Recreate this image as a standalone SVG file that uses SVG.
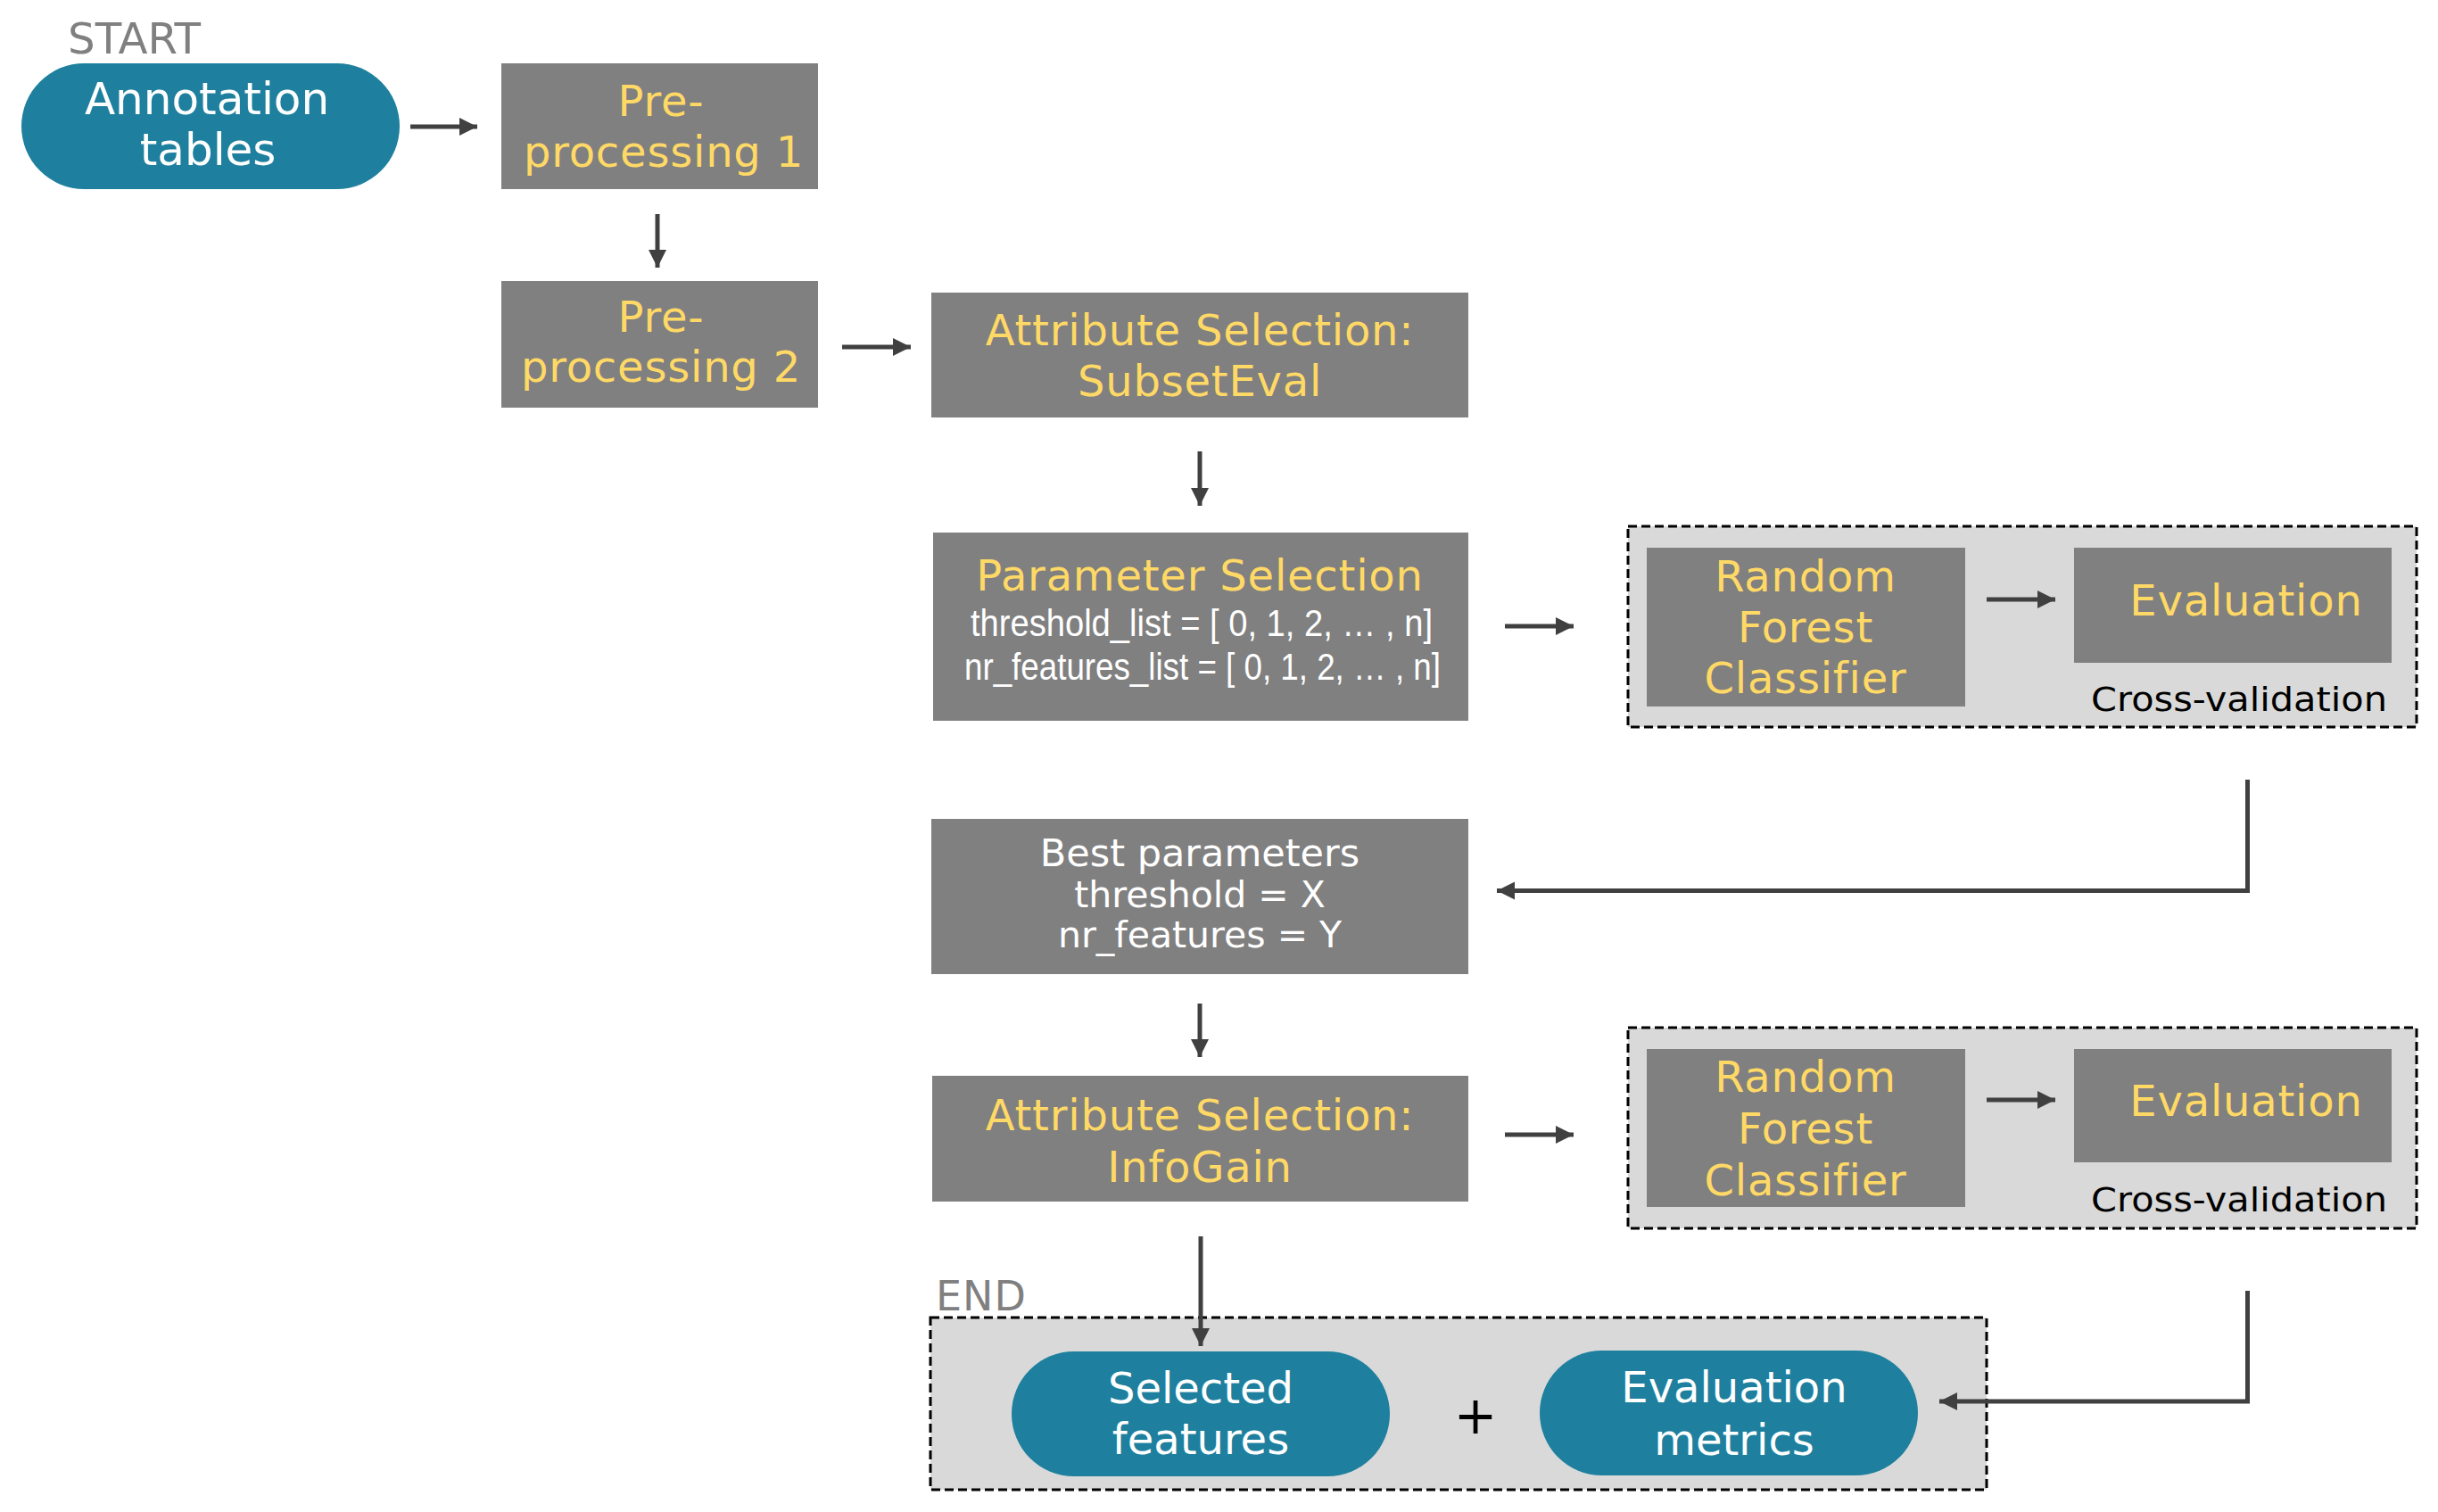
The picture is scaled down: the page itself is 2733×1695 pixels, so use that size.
<svg xmlns="http://www.w3.org/2000/svg" width="2733" height="1695" viewBox="0 0 2733 1695">
<defs>
<style>
.box{fill:#808080;}
.pill{fill:#1E809E;}
.cv{fill:#D9D9D9;stroke:#000;stroke-width:3;stroke-dasharray:10 5;}
.t{font-family:"DejaVu Sans",Verdana,sans-serif;font-size:48px;text-anchor:middle;}
.y{fill:#FFD966;letter-spacing:0.8px;}
.w{fill:#FFFFFF;}
.g{fill:#808080;}
.s{font-family:"DejaVu Sans",Verdana,sans-serif;font-size:41px;text-anchor:middle;fill:#FFFFFF;}
.c{font-family:"DejaVu Sans",Verdana,sans-serif;font-size:38px;text-anchor:end;fill:#000;}
.n{font-family:"Liberation Sans",Arial,sans-serif;font-size:42px;fill:#FFFFFF;}
.con{fill:none;stroke:#404040;stroke-width:5;marker-end:url(#ah);}
</style>
<marker id="ah" markerUnits="userSpaceOnUse" markerWidth="22" markerHeight="22" refX="20" refY="10" orient="auto">
<path d="M0,0 L20,10 L0,20 Z" fill="#404040"/>
</marker>
</defs>
<rect width="2733" height="1695" fill="#FFFFFF"/>

<g id="start">
<text x="76" y="60" class="t g" style="text-anchor:start" textLength="149" lengthAdjust="spacingAndGlyphs">START</text>
</g>
<g id="annotation">
<rect x="24" y="71" width="424" height="141" rx="70.5" class="pill"/>
<text x="232" y="128" class="t w" style="font-size:50px">Annotation</text>
<text x="233" y="185" class="t w" style="font-size:50px">tables</text>
</g>
<g id="pre1">
<rect x="562" y="71" width="355" height="141" class="box"/>
<text x="741" y="130" class="t y">Pre-</text>
<text x="744" y="187" class="t y">processing 1</text>
</g>
<g id="pre2">
<rect x="562" y="315" width="355" height="142" class="box"/>
<text x="741" y="372" class="t y">Pre-</text>
<text x="741" y="428" class="t y">processing 2</text>
</g>
<g id="attr1">
<rect x="1044" y="328" width="602" height="140" class="box"/>
<text x="1345" y="387" class="t y">Attribute Selection:</text>
<text x="1345" y="444" class="t y">SubsetEval</text>
</g>
<g id="param">
<rect x="1046" y="597" width="600" height="211" class="box"/>
<text x="1345" y="662" class="t y">Parameter Selection</text>
<text x="1088" y="713" class="n" textLength="518" lengthAdjust="spacingAndGlyphs">threshold_list  = [ 0, 1, 2, … , n]</text>
<text x="1081" y="762" class="n" textLength="534" lengthAdjust="spacingAndGlyphs">nr_features_list = [ 0, 1, 2, … , n]</text>
</g>
<g id="cv1">
<rect x="1825" y="590" width="884" height="225" class="cv"/>
<g id="rf1">
<rect x="1846" y="614" width="357" height="178" class="box"/>
<text x="2024" y="663" class="t y">Random</text>
<text x="2024" y="720" class="t y">Forest</text>
<text x="2024" y="777" class="t y">Classifier</text>
</g>
<g id="eval1">
<rect x="2325" y="614" width="356" height="129" class="box"/>
<text x="2518" y="690" class="t y">Evaluation</text>
</g>
<text x="2676" y="797" class="c" textLength="332" lengthAdjust="spacingAndGlyphs">Cross-validation</text>
</g>
<g id="best">
<rect x="1044" y="918" width="602" height="174" class="box"/>
<text x="1345" y="971" class="s" style="font-size:43px">Best parameters</text>
<text x="1345" y="1017" class="s">threshold = X</text>
<text x="1345" y="1062" class="s">nr_features = Y</text>
</g>
<g id="attr2">
<rect x="1045" y="1206" width="601" height="141" class="box"/>
<text x="1345" y="1267" class="t y">Attribute Selection:</text>
<text x="1345" y="1325" class="t y">InfoGain</text>
</g>
<g id="cv2">
<rect x="1825" y="1152" width="884" height="225" class="cv"/>
<g id="rf2">
<rect x="1846" y="1176" width="357" height="177" class="box"/>
<text x="2024" y="1224" class="t y">Random</text>
<text x="2024" y="1282" class="t y">Forest</text>
<text x="2024" y="1340" class="t y">Classifier</text>
</g>
<g id="eval2">
<rect x="2325" y="1176" width="356" height="127" class="box"/>
<text x="2518" y="1251" class="t y">Evaluation</text>
</g>
<text x="2676" y="1358" class="c" textLength="332" lengthAdjust="spacingAndGlyphs">Cross-validation</text>
</g>
<g id="end">
<text x="1049" y="1469" class="t g" style="font-size:46px;text-anchor:start;letter-spacing:1px">END</text>
<rect x="1043" y="1477" width="1184" height="193" class="cv"/>
<g id="selected">
<rect x="1134" y="1515" width="424" height="140" rx="70" class="pill"/>
<text x="1346" y="1573" class="t w">Selected</text>
<text x="1346" y="1630" class="t w">features</text>
</g>
<text x="1654" y="1607" style="font-family:'DejaVu Sans',sans-serif;font-size:58px;text-anchor:middle;fill:#000">+</text>
<g id="metrics">
<rect x="1726" y="1514" width="424" height="140" rx="70" class="pill"/>
<text x="1944" y="1572" class="t w">Evaluation</text>
<text x="1944" y="1631" class="t w">metrics</text>
</g>
</g>

<g id="connectors">
<path class="con" d="M460,142 H535"/>
<path class="con" d="M737,240 V300"/>
<path class="con" d="M944,389 H1021"/>
<path class="con" d="M1345,506 V567"/>
<path class="con" d="M1687,702 H1764"/>
<path class="con" d="M2227,672 H2304"/>
<path class="con" d="M2519.5,874 V998.5 H1678"/>
<path class="con" d="M1345,1125 V1185"/>
<path class="con" d="M1687,1272 H1764"/>
<path class="con" d="M2227,1233 H2304"/>
<path class="con" d="M1346,1386 V1509"/>
<path class="con" d="M2519.5,1447 V1571 H2174"/>
</g>
</svg>
